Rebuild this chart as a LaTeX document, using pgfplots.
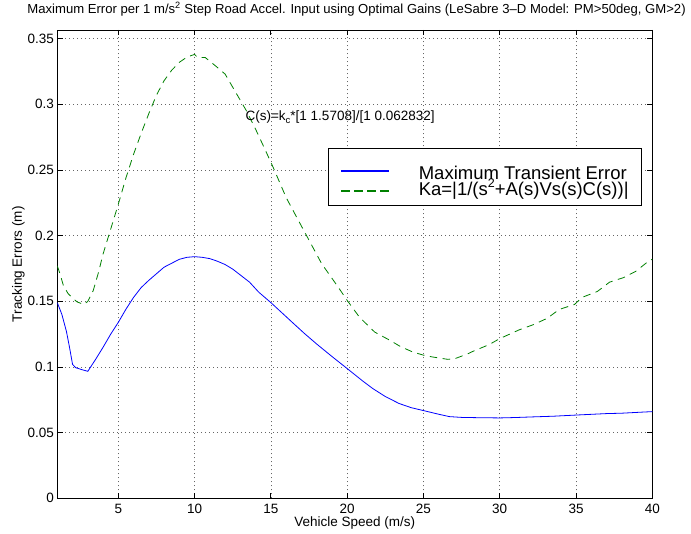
\documentclass[border=0pt]{standalone}
\usepackage{fontspec}
\setmainfont{Liberation Sans}
\usepackage{pgfplots}
\pgfplotsset{compat=1.18}
\definecolor{mblue}{RGB}{0,0,255}
\definecolor{mgreen}{RGB}{0,128,0}
\newcommand{\fs}{\fontsize{13.5bp}{16bp}\selectfont}
\newcommand{\ft}{\fontsize{13.1bp}{16bp}\selectfont}
\newcommand{\fl}{\fontsize{18.5bp}{20bp}\selectfont}
\begin{document}
\begin{tikzpicture}
\begin{axis}[
  scale only axis,
  width=595bp, height=468.3bp,
  xmin=1, xmax=40, ymin=0, ymax=0.3566,
  xtick={5,10,15,20,25,30,35,40},
  xticklabels={5,10,15,20,25,30,35,40},
  ytick={0,0.05,0.1,0.15,0.2,0.25,0.3,0.35},
  yticklabels={0,0.05,0.1,0.15,0.2,0.25,0.3,0.35},
  /pgf/number format/assume math mode=true,
  tick label style={font=\fs},
  xticklabel style={anchor=center, yshift=-11bp},
  label style={font=\fs},
  xlabel={Vehicle Speed (m/s)},
  ylabel={Tracking Errors (m)},
  xlabel style={at={(axis description cs:0.5,-0.052)}, anchor=center},
  ylabel style={at={(axis description cs:-0.0652,0.5)}, anchor=center},
  title={Maximum Error per 1 m/s\textsuperscript{2} Step Road Accel. Input using Optimal Gains (LeSabre 3–D Model: PM>50deg, GM>2)},
  title style={font=\ft, at={(axis description cs:0.503,1.032)}, anchor=center},
  axis line style={line width=0.8bp},
  tick align=inside,
  major tick length=5.5bp,
  tick style={line width=0.8bp, black},
  grid=major,
  major grid style={dash pattern=on 1bp off 3bp, black!60, line width=0.6bp},
  legend style={at={(axis description cs:0.9827,0.748)}, anchor=north east,
    line width=0.8bp, font=\fl,
    inner xsep=13bp, inner ysep=8.5bp, row sep=0pt, column sep=30bp,
    nodes={inner sep=0pt}},
  legend cell align=left,
]
\addlegendimage{legend image code/.code={\color{mblue}\fill (0bp,-2.3bp) rectangle (46.7bp,-1.7bp);}}
\addlegendentry{\rule[-4bp]{0pt}{26.1bp}Maximum Transient Error}
\addlegendimage{legend image code/.code={\color{mgreen}\fill (0bp,-2.3bp) rectangle (7.5bp,-1.7bp) (13bp,-2.3bp) rectangle (20.5bp,-1.7bp) (26bp,-2.3bp) rectangle (33.5bp,-1.7bp) (39bp,-2.3bp) rectangle (46.5bp,-1.7bp);}}
\addlegendentry{\rule[-3.9bp]{0pt}{18.9bp}Ka=|1/(s\smash{\raisebox{0.42em}{\fontsize{12.5bp}{13bp}\selectfont 2}}+A(s)Vs(s)C(s))|}
\addplot[color=mblue, line width=0.8bp, forget plot] coordinates {
(1,0.149) (1.3,0.140) (1.6,0.127) (1.8,0.115) (2.0,0.102) (2.2,0.0995) (2.6,0.098) (3.0,0.0967)
(3.5,0.1056) (4.0,0.115) (4.5,0.125) (5.0,0.134) (5.5,0.144) (6.0,0.153) (6.5,0.1605) (7.0,0.166)
(7.5,0.171) (8.0,0.176) (8.5,0.179) (9.0,0.182) (9.5,0.1835) (10.0,0.184) (10.5,0.1835) (11.0,0.1825)
(11.5,0.1805) (12.0,0.178) (12.5,0.1745) (13.0,0.170) (13.6,0.1646) (14.2,0.157) (15.0,0.149)
(15.7,0.1415) (16.4,0.134) (17.2,0.1255) (18.0,0.1175) (19.0,0.108) (20.0,0.0988) (21.0,0.0895)
(21.7,0.0834) (22.5,0.0775) (23.4,0.0722) (24.2,0.069) (25.0,0.0668) (26.0,0.0640) (26.7,0.0622)
(27.5,0.0616) (28.5,0.0614) (30.0,0.0612) (31.0,0.0615) (32.2,0.0620) (33.5,0.0625) (35.2,0.0635)
(37.0,0.0645) (38.0,0.0648) (39.3,0.0656) (40.0,0.066)
};
\addplot[color=mgreen, line width=0.8bp, dash pattern=on 7.5bp off 5.5bp, forget plot] coordinates {
(1.0,0.177) (1.2,0.170) (1.4,0.162) (1.7,0.156) (2.0,0.1525) (2.3,0.1495) (2.75,0.1476) (3.0,0.150)
(3.35,0.158) (3.7,0.172) (4.0,0.186) (4.5,0.205) (5.0,0.224) (5.5,0.244) (6.0,0.262) (6.5,0.278)
(7.0,0.293) (7.5,0.307) (8.0,0.318) (8.5,0.326) (9.0,0.332) (9.5,0.336) (10.0,0.338) (10.2,0.3356)
(10.7,0.3356) (11.4,0.329) (12.0,0.323) (12.75,0.308) (13.4,0.295) (14.0,0.281) (14.6,0.266)
(15.15,0.252) (16.0,0.229) (16.46,0.219) (17.45,0.1976) (18.33,0.1786) (19.4,0.161) (20.0,0.1507)
(20.8,0.138) (21.8,0.1266) (22.8,0.1203) (23.5,0.1155) (24.3,0.1114) (25.0,0.109) (25.6,0.1076)
(26.6,0.1058) (27.1,0.1065) (27.9,0.110) (28.3,0.1122) (29.3,0.117) (30.0,0.1216) (31.3,0.1284)
(32.2,0.1322) (33.1,0.137) (33.9,0.1438) (34.9,0.1476) (35.4,0.153) (36.4,0.1575) (37.2,0.1646)
(38.1,0.168) (38.9,0.1727) (39.8,0.181) (40.0,0.182)
};
\node[anchor=west, inner sep=0pt, font=\fs] at (axis cs:13.33,0.29) {C(s)=k\raisebox{-0.45ex}{\fontsize{9.5bp}{10bp}\selectfont c}*[1 1.5708]/[1 0.062832]};
\end{axis}
\pgfresetboundingbox
\path[use as bounding box] ([shift={(-57.3bp,-35.7bp)}]current axis.south west) rectangle ([shift={(38.7bp,30bp)}]current axis.north east);
\end{tikzpicture}
\end{document}
